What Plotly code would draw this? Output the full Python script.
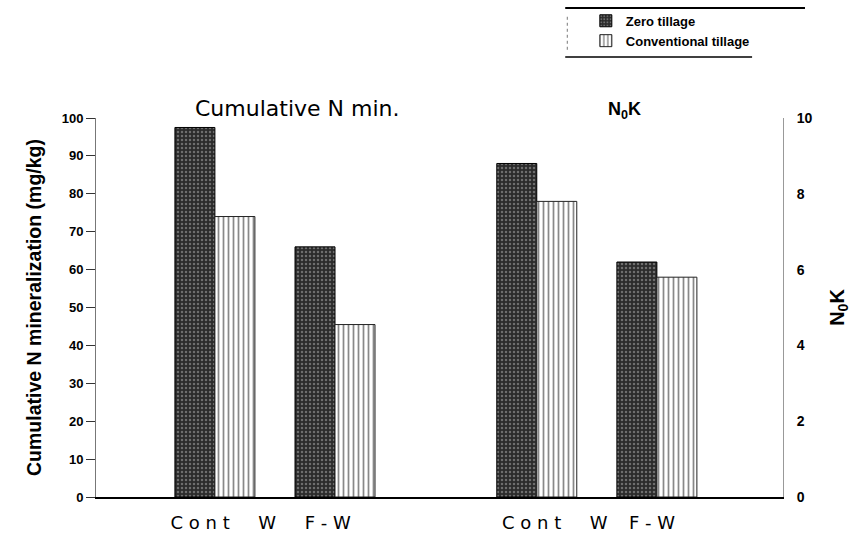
import plotly.graph_objects as go

# ---- data ----
systems = ["Cont W", "F-W"]
tick_text = ["C o n t     W", "F - W"]
series = ["Zero tillage", "Conventional tillage"]
cum_n_min_zero = [97.5, 66.0]
cum_n_min_conv = [74.0, 45.5]
n0k_zero = [8.8, 6.2]
n0k_conv = [7.8, 5.8]

# ---- layout helpers (positions on a numeric x axis) ----
left_pos = [0.0, 1.0]
right_pos = [2.68, 3.68]
label_pos = [0.07, 0.94, 2.83, 3.64]
bw = 0.333

zero_style = dict(color="#2b2b2b",
                  pattern=dict(shape=".", fgcolor="#b0b0b0", size=4, solidity=0.3),
                  line=dict(color="black", width=1))
conv_style = dict(color="white",
                  pattern=dict(shape="|", fgcolor="#111111", bgcolor="white", size=5, solidity=0.35),
                  line=dict(color="#222", width=1))

fig = go.Figure()
fig.add_bar(x=left_pos, y=cum_n_min_zero, name=series[0], marker=zero_style,
            width=bw, offset=-bw, legendgroup="z", yaxis="y")
fig.add_bar(x=left_pos, y=cum_n_min_conv, name=series[1], marker=conv_style,
            width=bw, offset=0, legendgroup="c", yaxis="y")
fig.add_bar(x=right_pos, y=n0k_zero, name=series[0], marker=zero_style,
            width=bw, offset=-bw, legendgroup="z", showlegend=False, yaxis="y2")
fig.add_bar(x=right_pos, y=n0k_conv, name=series[1], marker=conv_style,
            width=bw, offset=0, legendgroup="c", showlegend=False, yaxis="y2")

fig.update_layout(
    width=856, height=538,
    margin=dict(l=96, r=73, t=118, b=41, autoexpand=False),
    paper_bgcolor="white", plot_bgcolor="white",
    barmode="overlay",
    showlegend=True,
    legend=dict(x=0.713, y=1.296, xanchor="left", yanchor="top",
                bgcolor="rgba(0,0,0,0)", tracegroupgap=0,
                font=dict(family="Liberation Sans, Arial", size=13, color="black", weight="bold")),
    xaxis=dict(range=[-0.99, 4.73], showline=True, linecolor="black", linewidth=2,
               ticks="", tickvals=label_pos, ticktext=tick_text + tick_text,
               ticklabelstandoff=8,
               tickfont=dict(family="DejaVu Sans", size=18, color="black"),
               showgrid=False, zeroline=False),
    yaxis=dict(range=[0, 100], dtick=10, ticks="outside", ticklen=9, tickcolor="#333",
               showline=True, linecolor="#777", linewidth=1, showgrid=False, zeroline=False,
               tickfont=dict(family="Liberation Sans, Arial", size=13, color="black", weight="bold"),
               title=dict(text="Cumulative N mineralization (mg/kg)", standoff=14,
                          font=dict(family="Liberation Sans Narrow, Arial Narrow, Liberation Sans",
                                    size=19.5, color="black", weight="bold"))),
    yaxis2=dict(range=[0, 10], dtick=2, overlaying="y", side="right", anchor="x",
                showline=True, linecolor="#999", linewidth=1, ticks="", showgrid=False,
                zeroline=False, ticklabelstandoff=10,
                tickfont=dict(family="Liberation Sans, Arial", size=14, color="black", weight="bold"),
                title=dict(text="N<sub>0</sub>K", standoff=18,
                           font=dict(family="Liberation Sans, Arial", size=20, color="black", weight="bold"))),
    annotations=[
        dict(text="Cumulative N min.", xref="paper", yref="paper", x=0.294, y=1.026,
             showarrow=False, xanchor="center", yanchor="middle",
             font=dict(family="DejaVu Sans", size=22, color="black")),
        dict(text="N<sub>0</sub>K", xref="paper", yref="paper", x=0.769, y=1.02,
             showarrow=False, xanchor="center", yanchor="middle",
             font=dict(family="Liberation Sans, Arial", size=18, color="black", weight="bold")),
    ],
    shapes=[
        dict(type="line", xref="paper", yref="paper", x0=0.683, x1=1.032, y0=1.29, y1=1.29,
             line=dict(color="black", width=2)),
        dict(type="line", xref="paper", yref="paper", x0=0.683, x1=0.955, y0=1.161, y1=1.161,
             line=dict(color="black", width=1.5)),
        dict(type="line", xref="paper", yref="paper", x0=0.686, x1=0.686, y0=1.18, y1=1.27,
             line=dict(color="#777", width=1, dash="dot")),
    ],
)

fig.write_html("out.html", config={"displayModeBar": False},
               post_script="document.body.style.margin='0';document.body.style.overflow='hidden';")
